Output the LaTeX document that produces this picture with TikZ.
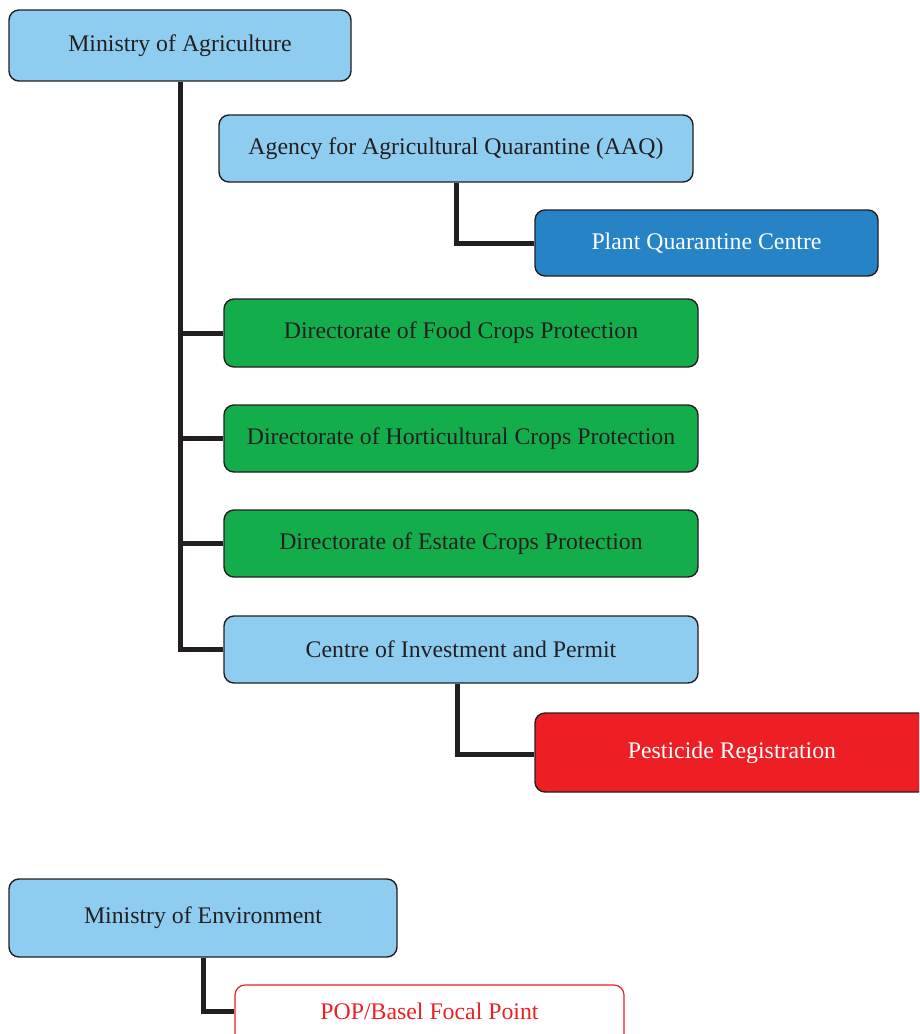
\documentclass[tikz,border=0pt]{standalone}
\usepackage{fontspec}
\setmainfont{Liberation Serif}
\definecolor{lblue}{HTML}{8FCDF0}
\definecolor{dblue}{HTML}{2583C6}
\definecolor{dgreen}{HTML}{13AE4B}
\definecolor{dred}{HTML}{ED1F24}
\definecolor{ink}{HTML}{231F20}
\begin{document}
\begin{tikzpicture}[x=1pt,y=-1pt,
  box/.style={draw=ink,line width=1.4pt,rounded corners=10pt,inner sep=0pt,
    font=\fontsize{23.8}{27}\selectfont,text=ink},
  lb/.style={box,fill=lblue},
  gb/.style={box,fill=dgreen},
  link/.style={draw=ink,line width=5pt,line join=miter}]
\useasboundingbox (0,0) rectangle (919,1034);
\clip (0,0) rectangle (919,1034);
\node[lb,minimum width=342pt,minimum height=71pt] (moa) at (180,45.5) {Ministry of Agriculture};
\node[lb,minimum width=474pt,minimum height=67pt] (aaq) at (456,148.5) {Agency for Agricultural Quarantine (AAQ)};
\node[box,fill=dblue,text=white,minimum width=343pt,minimum height=66pt] (pqc) at (706.5,243) {Plant Quarantine Centre};
\node[gb,minimum width=474pt,minimum height=68pt] (dfc) at (461,333) {Directorate of Food Crops Protection};
\node[gb,minimum width=474pt,minimum height=67pt] (dhc) at (461,438.5) {Directorate of Horticultural Crops Protection};
\node[gb,minimum width=474pt,minimum height=67pt] (dec) at (461,543.5) {Directorate of Estate Crops Protection};
\node[lb,minimum width=474pt,minimum height=67pt] (cip) at (461,649.5) {Centre of Investment and Permit};
\node[box,fill=dred,text=white,minimum width=394pt,minimum height=79pt] (pr) at (732,752.5) {Pesticide Registration};
\node[lb,minimum width=388pt,minimum height=78pt] (moe) at (203,918) {Ministry of Environment};
\node[box,draw=dred,fill=white,line width=1.2pt,minimum width=389pt,minimum height=60pt] (pop) at (429.5,1015) {};
\node[font=\fontsize{23.8}{27}\selectfont,text=dred] (poptext) at (429.5,1011) {POP/Basel Focal Point};
\coordinate (popin) at (pop.west |- poptext);
\draw[link] (moa.south) |- (cip.west);
\draw[link] (moa.south |- dfc.west) -- (dfc.west);
\draw[link] (moa.south |- dhc.west) -- (dhc.west);
\draw[link] (moa.south |- dec.west) -- (dec.west);
\draw[link] (aaq.south) |- (pqc.west);
\draw[link] ([xshift=-4pt]cip.south) |- ([yshift=-2pt]pr.west);
\draw[link] (moe.south) |- (popin);
\end{tikzpicture}
\end{document}
